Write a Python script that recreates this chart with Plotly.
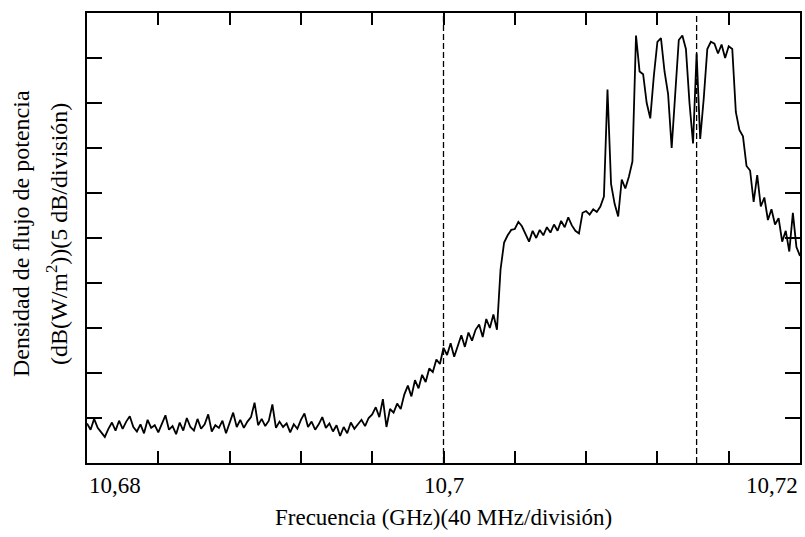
import plotly.graph_objects as go

# ---------------- data ----------------
freq_start_ghz = 10.68
freq_step_ghz = 0.0002

power_db = [
    4.4, 3.7, 4.9, 3.9, 3.4, 2.9, 3.8, 4.5, 3.6, 4.7,
    3.8, 4.6, 5.2, 4.0, 3.5, 4.3, 3.3, 4.8, 3.9, 4.2,
    3.4, 4.4, 5.3, 3.7, 4.1, 3.2, 4.5, 3.6, 5.0, 4.0,
    3.6, 4.9, 3.8, 4.3, 5.4, 3.5, 4.2, 3.9, 4.7, 3.3,
    4.5, 5.6, 4.0, 4.8, 3.9, 4.6, 5.1, 6.7, 4.2, 4.9,
    4.1, 4.7, 6.5, 3.9, 4.6, 4.0, 4.4, 3.4, 4.3, 3.8,
    4.8, 5.5, 4.0, 4.6, 3.7, 4.3, 5.1, 3.9, 4.4, 3.5,
    4.2, 3.0, 4.0, 3.3, 4.5, 3.8, 4.3, 4.8, 4.1, 5.0,
    5.4, 6.2, 5.1, 7.1, 4.0, 6.0, 5.6, 6.6, 6.0, 7.6,
    8.6, 7.4, 9.2, 8.3, 9.8, 9.0, 10.5, 10.1, 11.5, 11.0,
    12.8, 12.0, 13.3, 11.8, 13.0, 14.2, 12.9, 14.5, 13.6, 14.8,
    15.4, 14.0, 16.0, 15.0, 16.5, 14.8, 21.5, 24.5, 25.3, 25.9,
    26.0, 26.8, 26.3, 25.5, 24.6, 25.8, 25.0, 25.9, 25.3, 26.2,
    25.6, 26.5, 25.8, 26.9, 26.2, 27.3, 26.4, 25.8, 25.5, 27.8,
    28.0, 27.6, 28.2, 27.9, 28.5, 29.6, 41.5, 31.0, 28.8, 27.4,
    31.5, 30.5, 31.8, 33.5, 47.5, 43.5, 43.2, 40.0, 38.3, 43.0,
    46.8, 47.2, 43.5, 41.0, 35.0, 41.0, 47.0, 47.5, 46.0, 40.0,
    35.5, 45.5, 36.0, 40.5, 46.0, 46.8, 46.6, 45.5, 46.5, 45.0,
    46.3, 46.0, 39.0, 37.0, 36.3, 33.0, 32.5, 29.0, 32.0, 28.5,
    29.5, 27.0, 28.2, 26.5, 27.2, 24.6, 25.8, 23.5, 27.8, 24.0, 23.0,
]

# sweep frequency of each sample (uniform analyzer sweep)
freq_ghz = [round(freq_start_ghz + i * freq_step_ghz, 5) for i in range(len(power_db))]

marker_freqs_ghz = [10.70, 10.7142]

x_tick_values = [10.68, 10.684, 10.688, 10.692, 10.696, 10.70,
                 10.704, 10.708, 10.712, 10.716, 10.72]
x_label_values = [10.68, 10.70, 10.72]
x_label_texts = ["10,68", "10,7", "10,72"]

y_tick_values = [0, 5, 10, 15, 20, 25, 30, 35, 40, 45, 50]

x_title = "Frecuencia (GHz)(40 MHz/división)"
y_title_lines = ["Densidad de flujo de potencia",
                 "(dB(W/m<sup>2</sup>))(5 dB/división)"]

# ---------------- figure ----------------
FONT = "Liberation Serif, Times New Roman, serif"

fig = go.Figure()
fig.add_trace(go.Scatter(
    x=freq_ghz, y=power_db, mode="lines",
    line=dict(color="black", width=1.8),
    showlegend=False, hoverinfo="skip",
))

for f in marker_freqs_ghz:
    fig.add_shape(type="line", xref="x", yref="paper", x0=f, x1=f, y0=0, y1=1,
                  line=dict(color="black", width=1.3, dash="6px,3px"))

label_anchors = ["left", "center", "right"]
for xv, txt, anc in zip(x_label_values, x_label_texts, label_anchors):
    fig.add_annotation(x=xv, y=0, xref="x", yref="paper", text=txt,
                       showarrow=False, xanchor=anc, yanchor="middle",
                       yshift=-22, font=dict(family=FONT, size=23, color="black"))

fig.add_annotation(x=0.5, y=0, xref="paper", yref="paper", text=x_title,
                   showarrow=False, xanchor="center", yanchor="middle",
                   yshift=-54, font=dict(family=FONT, size=23, color="black"))

for k, line_txt in enumerate(y_title_lines):
    fig.add_annotation(x=0, y=0.5, xref="paper", yref="paper", text=line_txt,
                       textangle=-90, showarrow=False,
                       xanchor="center", yanchor="middle",
                       xshift=-66 + k * 36, yshift=4,
                       font=dict(family=FONT, size=24, color="black"))

fig.update_xaxes(range=[10.68, 10.72], tickvals=x_tick_values,
                 showticklabels=False, ticks="inside", ticklen=12, tickwidth=1.8,
                 tickcolor="black", showline=True, linecolor="black", linewidth=1.8,
                 mirror="ticks", showgrid=False, zeroline=False)
fig.update_yaxes(range=[0, 50], tickvals=y_tick_values,
                 showticklabels=False, ticks="inside", ticklen=15, tickwidth=1.8,
                 tickcolor="black", showline=True, linecolor="black", linewidth=1.8,
                 mirror="ticks", showgrid=False, zeroline=False)

fig.update_layout(width=805, height=537,
                  margin=dict(l=87, r=3, t=13, b=74),
                  paper_bgcolor="white", plot_bgcolor="white",
                  font=dict(family=FONT, color="black"))

fig.write_html("out.html")
